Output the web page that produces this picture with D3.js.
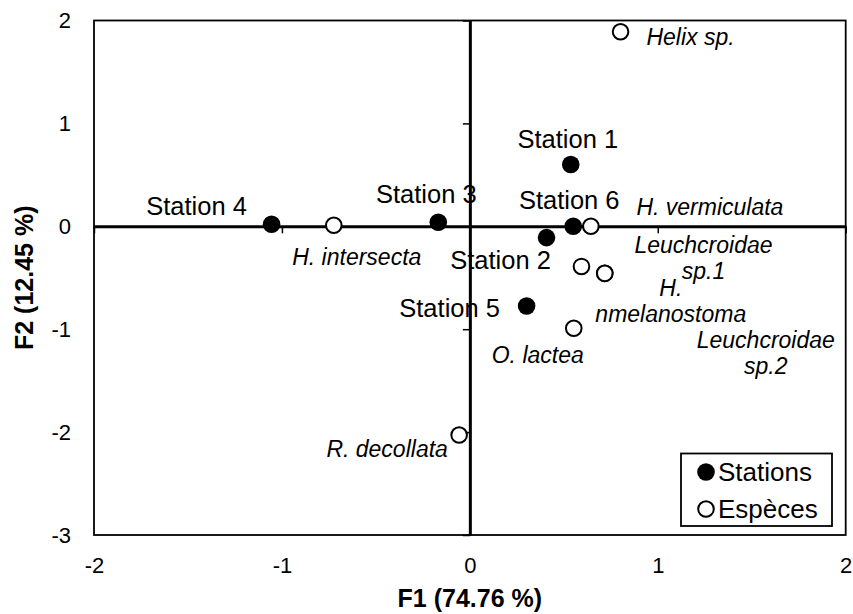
<!DOCTYPE html>
<html><head><meta charset="utf-8">
<script src="https://cdn.jsdelivr.net/npm/d3@7"></script>
<style>html,body{margin:0;background:#fff}text{font-family:"Liberation Sans",Arial,sans-serif;fill:#000}</style>
</head><body><svg id="chart" width="853" height="614"></svg>
<script>
// Correspondence analysis: stations and species on the F1/F2 plane
const stationNames = ["Station 1", "Station 2", "Station 3", "Station 4", "Station 5", "Station 6"];
const stationF1 = [0.537, 0.408, -0.168, -1.055, 0.302, 0.550];
const stationF2 = [0.60, -0.11, 0.04, 0.02, -0.775, 0.0];

const speciesNames = [["Helix sp."], ["H. vermiculata"], ["H. intersecta"], ["Leuchcroidae", "sp.1"],
  ["H.", "nmelanostoma"], ["Leuchcroidae", "sp.2"], ["O. lactea"], ["R. decollata"]];
const speciesF1 = [0.802, 0.644, -0.724, 0.594, 0.718, 0.718, 0.553, -0.057];
const speciesF2 = [1.891, 0.0, 0.01, -0.39, -0.457, -0.457, -0.991, -2.028];

const xTicks = [-2, -1, 0, 1, 2];
const yTicks = [-3, -2, -1, 0, 1, 2];
const legendLabels = ["Stations", "Espèces"];
const xTitle = "F1 (74.76 %)";
const yTitle = "F2 (12.45 %)";

// label placement (pixel offsets from each marker, text centred)
const stationLabelOffset = [[-3, -17], [-46, 31], [-12, -19], [-75, -9], [-77, 11], [-4, -17]];
const speciesLabelOffset = [[70, 13], [119, -11], [23, 40], [122, -13], [66, 23], [161, 75], [-36, 35], [-72, 22]];

const svg = d3.select("#chart");
const x = d3.scaleLinear().domain([-2, 2]).range([94, 845.7]);
const y = d3.scaleLinear().domain([-3, 2]).range([535, 20.5]);
const plainNum = d => String(d); // hyphen-minus, as on the printed axes

// plot frame
svg.append("rect")
  .attr("x", x(-2)).attr("y", y(2))
  .attr("width", x(2) - x(-2)).attr("height", y(-3) - y(2))
  .attr("fill", "none").attr("stroke", "#000").attr("stroke-width", 1.8);

// tick labels outside the frame
const yLab = svg.append("g").attr("transform", `translate(${x(-2)},0)`)
  .call(d3.axisLeft(y).tickValues(yTicks).tickSize(0).tickPadding(23).tickFormat(plainNum));
yLab.select(".domain").remove();
yLab.selectAll("text").attr("font-size", 22).attr("font-family", null);

const xLab = svg.append("g").attr("transform", `translate(0,${y(-3)})`)
  .call(d3.axisBottom(x).tickValues(xTicks).tickSize(0).tickPadding(22).tickFormat(plainNum));
xLab.select(".domain").remove();
xLab.selectAll("text").attr("font-size", 22).attr("font-family", null);

// axes crossing at the origin
const xZero = svg.append("g").attr("transform", `translate(0,${y(0)})`)
  .call(d3.axisBottom(x).tickValues(xTicks).tickSize(7).tickSizeOuter(0).tickFormat(""));
xZero.select(".domain").attr("stroke-width", 3);
xZero.selectAll(".tick line").attr("stroke-width", 1.5);

const yZero = svg.append("g").attr("transform", `translate(${x(0)},0)`)
  .call(d3.axisLeft(y).tickValues(yTicks).tickSize(7).tickSizeOuter(0).tickFormat(""));
yZero.select(".domain").attr("stroke-width", 3);
yZero.selectAll(".tick line").attr("stroke-width", 1.5);

// species (open circles)
const species = speciesNames.map((n, i) => ({ name: n, f1: speciesF1[i], f2: speciesF2[i], off: speciesLabelOffset[i] }));
svg.append("g").selectAll("circle").data(species).join("circle")
  .attr("cx", d => x(d.f1)).attr("cy", d => y(d.f2)).attr("r", 7.8)
  .attr("fill", "#fff").attr("stroke", "#000").attr("stroke-width", 2);

// stations (filled circles)
const stations = stationNames.map((n, i) => ({ name: n, f1: stationF1[i], f2: stationF2[i], off: stationLabelOffset[i] }));
svg.append("g").selectAll("circle").data(stations).join("circle")
  .attr("cx", d => x(d.f1)).attr("cy", d => y(d.f2)).attr("r", 8.8)
  .attr("fill", "#000");

svg.append("g").selectAll("text").data(stations).join("text")
  .attr("x", d => x(d.f1) + d.off[0]).attr("y", d => y(d.f2) + d.off[1])
  .attr("text-anchor", "middle").attr("font-size", 25.5)
  .text(d => d.name);

const spLab = svg.append("g").selectAll("text").data(species).join("text")
  .attr("text-anchor", "middle").attr("font-size", 23).attr("font-style", "italic");
spLab.selectAll("tspan").data(d => d.name.map(t => ({ t, d }))).join("tspan")
  .attr("x", e => x(e.d.f1) + e.d.off[0])
  .attr("y", (e, j) => y(e.d.f2) + e.d.off[1] + j * 26)
  .text(e => e.t);

// axis titles
svg.append("text").attr("x", x(0)).attr("y", 607)
  .attr("text-anchor", "middle").attr("font-size", 25).attr("font-weight", "bold").text(xTitle);
svg.append("text").attr("transform", `translate(33,${(y(2) + y(-3)) / 2}) rotate(-90)`)
  .attr("text-anchor", "middle").attr("font-size", 25).attr("font-weight", "bold").text(yTitle);

// legend
const lg = svg.append("g");
lg.append("rect").attr("x", 681).attr("y", 453.5).attr("width", 151).attr("height", 72.5)
  .attr("fill", "#fff").attr("stroke", "#000").attr("stroke-width", 1.8);
legendLabels.forEach((t, i) => {
  const cy = 472 + i * 37;
  lg.append("circle").attr("cx", 706).attr("cy", cy).attr("r", i === 0 ? 8.8 : 7.8)
    .attr("fill", i === 0 ? "#000" : "#fff").attr("stroke", i === 0 ? "none" : "#000").attr("stroke-width", 2);
  lg.append("text").attr("x", 718).attr("y", cy + 8.5).attr("font-size", 26).text(t);
});
</script></body></html>
